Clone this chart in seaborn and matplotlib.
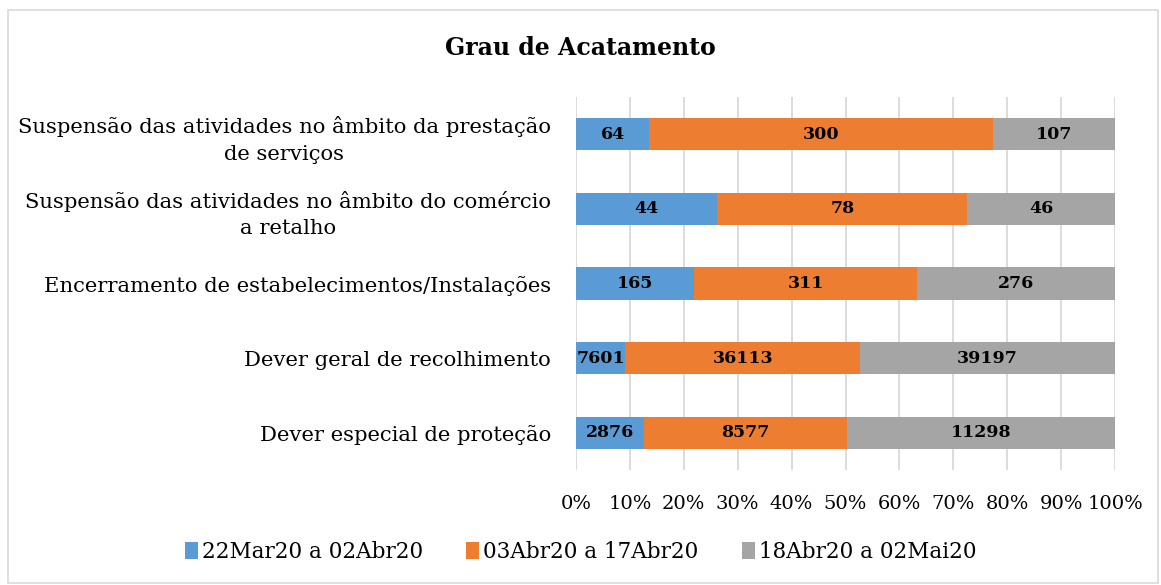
import matplotlib
matplotlib.use("Agg")
import matplotlib.pyplot as plt
import seaborn as sns
import pandas as pd
import numpy as np
from matplotlib.patches import Patch, Rectangle

categories = [
    "Suspensão das atividades no âmbito da prestação\nde serviços",
    "Suspensão das atividades no âmbito do comércio\na retalho",
    "Encerramento de estabelecimentos/Instalações",
    "Dever geral de recolhimento",
    "Dever especial de proteção",
]
series_names = ["22Mar20 a 02Abr20", "03Abr20 a 17Abr20", "18Abr20 a 02Mai20"]
period1 = [64, 44, 165, 7601, 2876]
period2 = [300, 78, 311, 36113, 8577]
period3 = [107, 46, 276, 39197, 11298]
tick_labels = ["0%", "10%", "20%", "30%", "40%", "50%", "60%", "70%", "80%", "90%", "100%"]

colors = ["#5B9BD5", "#ED7D31", "#A5A5A5"]

sns.set_theme(style="white")
plt.rcParams["font.family"] = ["DejaVu Serif"]
plt.rcParams["text.color"] = "black"
plt.rcParams["xtick.color"] = "black"
plt.rcParams["ytick.color"] = "black"

vals = np.array([period1, period2, period3], dtype=float)
tot = vals.sum(axis=0)
share = vals / tot
cum = np.cumsum(share, axis=0)

df = pd.DataFrame({"cat": categories})
for i in range(3):
    df[f"c{i}"] = cum[i]
    df[f"s{i}"] = share[i]

fig = plt.figure(figsize=(11.61, 5.85), dpi=100)
ax = fig.add_axes([576 / 1161, 1 - 470 / 585, (1115 - 576) / 1161, (470 - 97) / 585])

for i in [2, 1, 0]:
    sns.barplot(data=df, y="cat", x=f"c{i}", orient="h", color=colors[i],
                width=0.43, saturation=1, ax=ax, edgecolor="none", zorder=3)

# value labels
for j in range(len(categories)):
    for i in range(3):
        center = cum[i][j] - share[i][j] / 2
        ax.text(center, j, f"{int(vals[i][j])}", ha="center", va="center",
                fontsize=12.5, fontweight="bold", color="black", zorder=5)

ax.set_xlim(0, 1)
ax.set_ylim(4.5, -0.5)
ax.set_xticks(np.linspace(0, 1, 11))
ax.set_xticklabels(tick_labels, fontsize=14)
ax.tick_params(axis="x", length=0, pad=18)
ax.tick_params(axis="y", length=0, pad=18)
ax.set_yticklabels(categories, fontsize=15.2, linespacing=1.5, multialignment="center")
ax.set_xlabel("")
ax.set_ylabel("")
ax.grid(axis="x", color="#d9d9d9", linewidth=1.3, zorder=0)
ax.grid(axis="y", visible=False)
for s in ax.spines.values():
    s.set_visible(False)

fig.text(0.5, 1 - 48 / 585, "Grau de Acatamento", ha="center", va="center",
         fontsize=17, fontweight="bold")

handles = [Patch(facecolor=c, edgecolor="none") for c in colors]
fig.legend(handles, series_names, loc="center", bbox_to_anchor=(0.5, 1 - 552 / 585),
           ncol=3, frameon=False, fontsize=15.5, handlelength=0.6, handleheight=0.8,
           handletextpad=0.2, columnspacing=2.0)

fig.patches.append(Rectangle((8 / 1161, 2 / 585), 1150 / 1161, 573 / 585,
                             transform=fig.transFigure, fill=False,
                             edgecolor="#d9d9d9", linewidth=1.2))

fig.savefig("out.png", dpi=100)
